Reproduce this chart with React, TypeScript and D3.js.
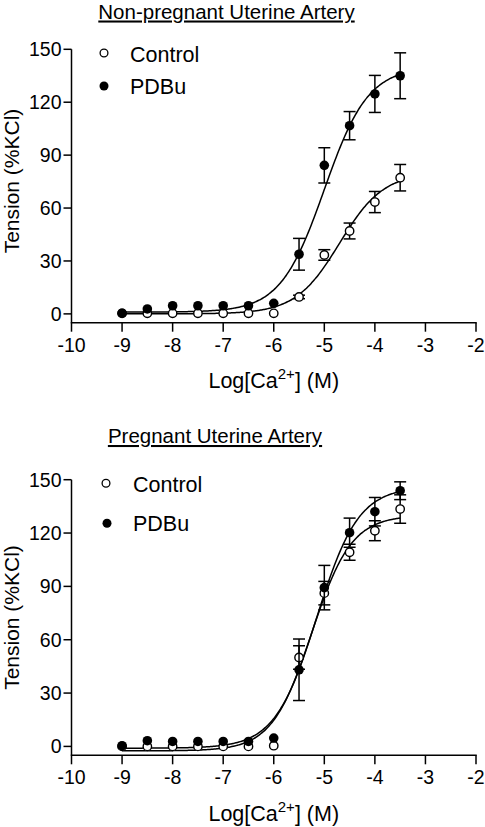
import React from 'react';
import * as d3 from 'd3';

// ---- Data ----
const concentrations = [-9, -8.5, -8, -7.5, -7, -6.5, -6, -5.5, -5, -4.5, -4, -3.5];

const npControlMean = [0.3, 0.3, 0.3, 0.3, 0.3, 0.3, 0.3, 9.6, 33.4, 47, 63.4, 77.2];
const npControlSem = [0, 0, 0, 0, 0, 0, 0, 1, 3, 4.5, 6, 7.5];
const npPdbuMean = [0.4, 2.8, 4.6, 4.6, 4.6, 4.6, 6, 33.8, 84.2, 106.7, 124.7, 135];
const npPdbuSem = [0, 0, 0, 0, 0, 0, 0, 9, 10, 8, 10.5, 13];

const pControlMean = [0, 0, 0, 0, 0, 0, 0.4, 50, 86.2, 109.2, 121.3, 133.5];
const pControlSem = [0, 0, 0, 0, 0, 0, 0, 6.6, 6.6, 4.5, 5.6, 8];
const pPdbuMean = [0.4, 3.2, 2.8, 2.8, 2.8, 2.8, 4.7, 43.1, 89.3, 120.2, 132, 143.8];
const pPdbuSem = [0, 0, 0, 0, 0, 0, 0, 17.3, 12.5, 8.2, 8, 5];

// fitted sigmoid parameters: [bottom, top, logEC50, hillSlope]
const npControlFit = [0, 80, -4.7, 1.0];
const npPdbuFit = [1, 140, -5.0, 1.0];
const pControlFit = [-2.5, 130, -5.25, 1.1];
const pPdbuFit = [-1, 146, -5.15, 1.05];

const xTicks = [-10, -9, -8, -7, -6, -5, -4, -3, -2];
const yTicks = [0, 30, 60, 90, 120, 150];
const xDomain = [-10, -2];
const yDomain = [-5, 150];
const seriesNames = ['Control', 'PDBu'];
const titles = ['Non-pregnant Uterine Artery', 'Pregnant Uterine Artery'];

const FONT = "'Liberation Sans', Arial, Helvetica, sans-serif";

type Series = { mean: number[]; sem: number[]; fit: number[]; filled: boolean };

type PanelCfg = {
  title: string;
  titleX: number;
  titleY: number;
  plotTop: number;
  plotBottom: number;
  labelY: number;
  legend: { cy: number; ty: number; cx: number; tx: number }[];
  series: Series[];
};

const panels: PanelCfg[] = [
  {
    title: titles[0],
    titleX: 226.5,
    titleY: 18.5,
    plotTop: 49.3,
    plotBottom: 322.7,
    labelY: 181,
    legend: [
      { cx: 104, cy: 53, tx: 130, ty: 61.5 },
      { cx: 104, cy: 86, tx: 130, ty: 93.5 },
    ],
    series: [
      { mean: npControlMean, sem: npControlSem, fit: npControlFit, filled: false },
      { mean: npPdbuMean, sem: npPdbuSem, fit: npPdbuFit, filled: true },
    ],
  },
  {
    title: titles[1],
    titleX: 215,
    titleY: 443,
    plotTop: 479.7,
    plotBottom: 755.3,
    labelY: 617.5,
    legend: [
      { cx: 106, cy: 483.3, tx: 133, ty: 491.5 },
      { cx: 107, cy: 523.3, tx: 133, ty: 531 },
    ],
    series: [
      { mean: pControlMean, sem: pControlSem, fit: pControlFit, filled: false },
      { mean: pPdbuMean, sem: pPdbuSem, fit: pPdbuFit, filled: true },
    ],
  },
];

const hill = (p: number[], x: number) =>
  p[0] + (p[1] - p[0]) / (1 + Math.pow(10, (p[2] - x) * p[3]));

function Panel({ cfg }: { cfg: PanelCfg }) {
  const x = d3.scaleLinear().domain(xDomain).range([71.5, 476]);
  const y = d3.scaleLinear().domain(yDomain).range([cfg.plotBottom, cfg.plotTop]);
  const axisY = y(yDomain[0]);
  const axisX = x(xDomain[0]);
  const r = 4.8;
  const cap = 6;

  const xs = d3.range(0, 201).map((i) => concentrations[0] + (i / 200) * (concentrations[concentrations.length - 1] - concentrations[0]));
  const line = d3
    .line<number>()
    .x((d) => x(d))
    .curve(d3.curveMonotoneX);

  return (
    <g>
      <text
        x={cfg.titleX}
        y={cfg.titleY}
        textAnchor="middle"
        fontSize={20.5}
        fontFamily={FONT}
        textDecoration="underline"
      >
        {cfg.title}
      </text>
      {/* y axis */}
      <line x1={axisX} x2={axisX} y1={y(150)} y2={axisY} stroke="#000" strokeWidth={1.5} />
      {yTicks.map((t) => (
        <g key={t}>
          <line x1={axisX - 8} x2={axisX} y1={y(t)} y2={y(t)} stroke="#000" strokeWidth={1.5} />
          <text x={axisX - 10} y={y(t)} dy="0.36em" textAnchor="end" fontSize={19.5} fontFamily={FONT}>
            {t}
          </text>
        </g>
      ))}
      {/* x axis */}
      <line x1={x(xDomain[0]) - 0.75} x2={x(xDomain[1]) + 0.75} y1={axisY} y2={axisY} stroke="#000" strokeWidth={1.5} />
      {xTicks.map((t) => (
        <g key={t}>
          <line x1={x(t)} x2={x(t)} y1={axisY} y2={axisY + 9} stroke="#000" strokeWidth={1.5} />
          <text x={x(t)} y={axisY + 29} textAnchor="middle" fontSize={19.5} fontFamily={FONT}>
            {String(t)}
          </text>
        </g>
      ))}
      <text x={(x(xDomain[0]) + x(xDomain[1])) / 2} y={axisY + 65.5} textAnchor="middle" fontSize={21.5} fontFamily={FONT}>
        <tspan>Log[Ca</tspan>
        <tspan fontSize={15} dy={-9}>2+</tspan>
        <tspan dy={9}>] (M)</tspan>
      </text>
      <text
        transform={`translate(19,${cfg.labelY}) rotate(-90)`}
        textAnchor="middle"
        fontSize={21}
        fontFamily={FONT}
      >
        Tension (%KCl)
      </text>
      {/* curves */}
      {cfg.series.map((s, i) => (
        <path
          key={'c' + i}
          d={line.y((d) => y(hill(s.fit, d)))(xs) || ''}
          fill="none"
          stroke="#000"
          strokeWidth={1.5}
        />
      ))}
      {/* error bars and points */}
      {cfg.series.map((s, i) => (
        <g key={'s' + i}>
          {concentrations.map((c, j) =>
            s.sem[j] > 0 ? (
              <g key={j} stroke="#000" strokeWidth={1.5}>
                <line x1={x(c)} x2={x(c)} y1={y(s.mean[j] - s.sem[j])} y2={y(s.mean[j] + s.sem[j])} />
                <line x1={x(c) - cap} x2={x(c) + cap} y1={y(s.mean[j] + s.sem[j])} y2={y(s.mean[j] + s.sem[j])} />
                <line x1={x(c) - cap} x2={x(c) + cap} y1={y(s.mean[j] - s.sem[j])} y2={y(s.mean[j] - s.sem[j])} />
              </g>
            ) : null
          )}
          {concentrations.map((c, j) => (
            <circle
              key={'p' + j}
              cx={x(c)}
              cy={y(s.mean[j])}
              r={s.filled ? r : r - 0.6}
              fill={s.filled ? '#000' : '#fff'}
              stroke="#000"
              strokeWidth={s.filled ? 0 : 1.4}
            />
          ))}
        </g>
      ))}
      {/* legend */}
      {cfg.legend.map((l, i) => (
        <g key={'l' + i}>
          <circle
            cx={l.cx}
            cy={l.cy}
            r={cfg.series[i].filled ? 4.5 : 3.9}
            fill={cfg.series[i].filled ? '#000' : '#fff'}
            stroke="#000"
            strokeWidth={cfg.series[i].filled ? 0 : 1.3}
          />
          <text x={l.tx} y={l.ty} fontSize={21.5} fontFamily={FONT}>
            {seriesNames[i]}
          </text>
        </g>
      ))}
    </g>
  );
}

export default function App() {
  return (
    <svg
      width={485}
      height={827}
      viewBox="0 0 485 827"
      style={{ position: 'absolute', left: 0, top: 0, background: '#fff' }}
    >
      <rect width={485} height={827} fill="#fff" />
      {panels.map((p, i) => (
        <Panel key={i} cfg={p} />
      ))}
    </svg>
  );
}
